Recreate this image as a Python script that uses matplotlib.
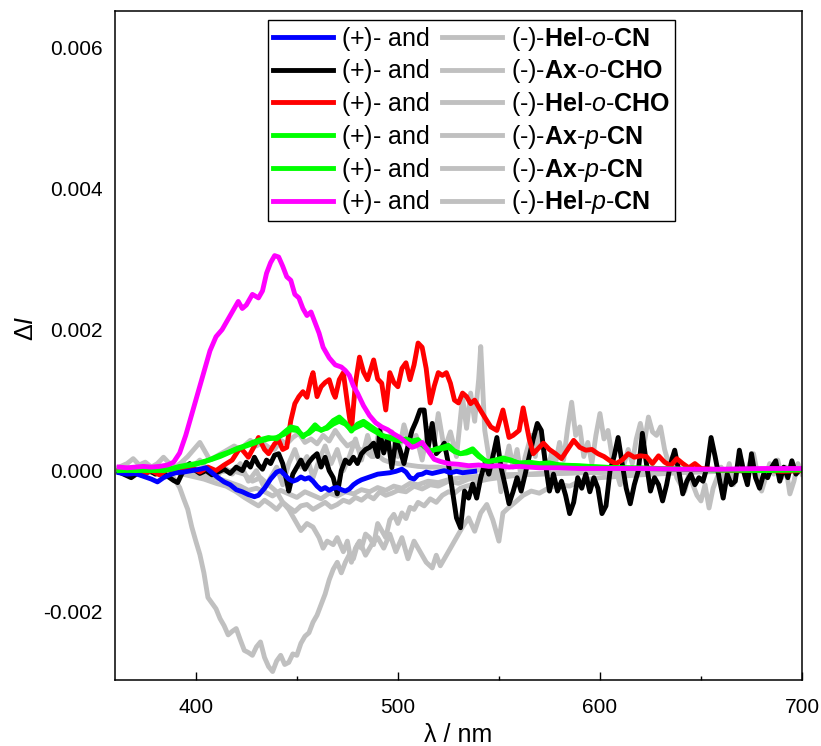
import matplotlib
matplotlib.use('Agg')
import matplotlib.pyplot as plt
from matplotlib.ticker import MultipleLocator, FormatStrFormatter

plt.rcParams['font.family'] = ['Liberation Sans', 'DejaVu Sans']
plt.rcParams['mathtext.fontset'] = 'custom'
plt.rcParams['mathtext.rm'] = 'Liberation Sans'
plt.rcParams['mathtext.it'] = 'Liberation Sans:italic'
plt.rcParams['mathtext.bf'] = 'Liberation Sans:bold'
plt.rcParams['axes.unicode_minus'] = False

# spectra: (wavelength / nm, delta I in 1e-3)
# (+) enantiomers
hel_o_cn_plus = [(362, -0.03), (366, -0.05), (370, -0.04), (374, -0.08), (378, -0.12), (381, -0.16), (384, -0.1),
                 (387, -0.06), (390, -0.03), (394, -0.02), (398, 0.0), (402, 0.02), (405, 0.04), (408, -0.03),
                 (411, -0.1), (414, -0.16), (417, -0.2), (420, -0.27), (423, -0.3), (426, -0.34), (429, -0.37),
                 (431, -0.35), (434, -0.25), (437, -0.12), (440, -0.02), (442, 0.0), (444, -0.06), (446, -0.12),
                 (448, -0.15), (450, -0.13), (452, -0.09), (454, -0.12), (456, -0.1), (458, -0.15), (460, -0.22),
                 (462, -0.27), (464, -0.24), (466, -0.28), (468, -0.25), (470, -0.24), (472, -0.27), (474, -0.29),
                 (476, -0.26), (478, -0.2), (480, -0.16), (482, -0.13), (484, -0.11), (487, -0.08), (490, -0.05),
                 (493, -0.04), (496, -0.03), (499, -0.01), (502, 0.02), (504, -0.02), (506, -0.1), (508, -0.12),
                 (510, -0.06), (512, -0.05), (514, -0.02), (517, -0.04), (520, -0.02), (523, 0.0), (526, -0.03),
                 (529, -0.01), (532, -0.03), (535, -0.02), (538, -0.01)]

ax_o_cho_plus = [(362, -0.02), (365, -0.06), (368, -0.1), (371, -0.04), (374, -0.07), (377, 0.0), (380, -0.05),
                 (383, -0.02), (386, -0.08), (389, -0.14), (391, -0.17), (393, -0.05), (395, 0.05), (397, 0.1),
                 (399, 0.02), (402, -0.04), (405, 0.0), (408, -0.06), (411, -0.02), (414, 0.02), (417, -0.04),
                 (420, 0.05), (423, 0.0), (425, 0.12), (427, 0.05), (429, 0.19), (431, 0.08), (433, 0.02),
                 (435, 0.15), (437, 0.1), (439, 0.22), (441, 0.24), (443, 0.1), (445, -0.15), (446, -0.29),
                 (448, -0.05), (450, 0.05), (452, 0.15), (454, 0.02), (456, 0.12), (458, 0.19), (460, 0.24),
                 (462, 0.05), (464, 0.19), (466, 0.0), (468, -0.1), (470, -0.33), (472, 0.0), (474, 0.15),
                 (476, 0.1), (478, 0.19), (480, 0.1), (482, 0.24), (484, 0.3), (486, 0.33), (488, 0.39),
                 (490, 0.2), (491, 0.57), (493, 0.25), (495, 0.47), (497, 0.04), (499, 0.43), (501, 0.3),
                 (503, 0.1), (505, 0.35), (507, 0.57), (509, 0.7), (511, 0.86), (513, 0.86), (515, 0.33),
                 (517, 0.67), (519, 0.24), (521, 0.3), (523, 0.39), (525, 0.1), (527, -0.29), (529, -0.67),
                 (531, -0.81), (533, -0.29), (535, -0.39), (537, -0.19), (539, -0.39), (541, -0.1), (543, 0.1),
                 (545, -0.05), (547, 0.2), (549, 0.47), (551, 0.05), (553, -0.2), (555, -0.47), (557, -0.3),
                 (559, -0.1), (561, -0.29), (563, -0.05), (565, 0.2), (567, 0.45), (569, 0.67), (571, 0.57),
                 (573, 0.1), (575, -0.29), (577, -0.05), (579, -0.29), (581, -0.15), (583, -0.35), (585, -0.61),
                 (587, -0.45), (589, -0.1), (591, -0.25), (593, -0.05), (595, -0.3), (597, -0.1), (599, -0.25),
                 (601, -0.61), (603, -0.5), (605, 0.0), (607, 0.2), (609, 0.47), (611, 0.1), (613, -0.25),
                 (615, -0.47), (617, -0.2), (619, 0.0), (621, 0.53), (623, 0.1), (625, -0.29), (627, -0.1),
                 (629, -0.2), (631, -0.43), (633, -0.2), (635, 0.1), (637, 0.29), (639, 0.0), (641, -0.33),
                 (643, -0.15), (645, -0.05), (647, -0.2), (649, -0.1), (651, -0.15), (653, 0.05), (655, 0.47),
                 (657, 0.2), (659, -0.1), (661, -0.39), (663, -0.05), (665, -0.2), (667, -0.15), (669, 0.29),
                 (671, 0.0), (673, -0.2), (675, 0.24), (677, -0.1), (679, -0.25), (681, -0.05), (683, -0.1),
                 (685, 0.05), (687, 0.14), (689, -0.15), (691, 0.05), (693, -0.1), (695, 0.14), (697, -0.05),
                 (699, 0.02), (700, 0.0)]

hel_o_cho_plus = [(362, 0.02), (366, -0.04), (370, 0.03), (374, -0.05), (378, 0.0), (382, -0.06), (386, 0.02),
                  (390, -0.03), (394, 0.0), (398, 0.04), (402, -0.02), (406, 0.05), (410, 0.0), (414, 0.08),
                  (418, 0.15), (422, 0.33), (426, 0.19), (429, 0.35), (431, 0.47), (434, 0.3), (436, 0.24),
                  (439, 0.38), (441, 0.43), (443, 0.3), (445, 0.33), (447, 0.71), (449, 0.95), (451, 1.05),
                  (453, 1.12), (455, 1.04), (457, 1.3), (458, 1.39), (460, 1.05), (462, 1.19), (464, 1.25),
                  (466, 1.29), (468, 1.1), (469, 1.04), (471, 1.29), (473, 1.39), (475, 0.96), (477, 0.57),
                  (479, 1.24), (481, 1.61), (483, 1.4), (485, 1.29), (488, 1.57), (490, 1.3), (492, 1.24),
                  (494, 0.86), (496, 1.39), (498, 1.25), (500, 1.19), (502, 1.45), (504, 1.53), (506, 1.29),
                  (508, 1.5), (510, 1.81), (512, 1.75), (514, 1.45), (516, 0.96), (518, 1.2), (520, 1.39),
                  (522, 1.35), (524, 1.39), (526, 1.24), (528, 1.0), (530, 0.96), (532, 1.1), (534, 1.05),
                  (536, 0.95), (538, 1.0), (541, 0.85), (544, 0.71), (546, 0.62), (549, 0.57), (552, 0.86),
                  (555, 0.47), (557, 0.5), (560, 0.57), (562, 0.89), (565, 0.45), (567, 0.24), (570, 0.33),
                  (572, 0.39), (575, 0.3), (578, 0.24), (581, 0.17), (584, 0.3), (587, 0.43), (590, 0.33),
                  (593, 0.29), (596, 0.3), (599, 0.24), (602, 0.2), (605, 0.14), (608, 0.1), (611, 0.15),
                  (614, 0.24), (617, 0.19), (620, 0.21), (623, 0.2), (626, 0.1), (629, 0.21), (632, 0.12),
                  (635, 0.07), (638, 0.17), (641, 0.1), (644, 0.04), (647, 0.1), (650, 0.03), (655, 0.02),
                  (660, 0.01), (670, 0.0), (680, 0.01), (690, -0.01), (700, 0.0)]

ax_p_cn_plus_1 = [(362, 0.0), (370, 0.01), (378, 0.0), (384, 0.01), (388, 0.03), (392, 0.06), (396, 0.08),
                  (400, 0.1), (404, 0.12), (408, 0.17), (412, 0.22), (416, 0.26), (420, 0.31), (424, 0.35),
                  (428, 0.4), (432, 0.44), (436, 0.47), (440, 0.45), (444, 0.55), (447, 0.62), (450, 0.6),
                  (453, 0.48), (456, 0.55), (459, 0.65), (462, 0.57), (465, 0.62), (468, 0.71), (471, 0.76),
                  (474, 0.68), (477, 0.56), (480, 0.66), (483, 0.7), (486, 0.64), (489, 0.58), (492, 0.5),
                  (495, 0.48), (498, 0.46), (501, 0.43), (504, 0.45), (507, 0.42), (510, 0.44), (513, 0.35),
                  (516, 0.27), (519, 0.31), (522, 0.33), (525, 0.36), (528, 0.28), (531, 0.24), (534, 0.27),
                  (537, 0.31), (540, 0.22), (544, 0.12), (548, 0.15), (552, 0.18), (556, 0.15), (560, 0.1),
                  (565, 0.12), (570, 0.1), (575, 0.11), (580, 0.08), (590, 0.07), (600, 0.05), (610, 0.04),
                  (620, 0.04), (640, 0.02), (660, 0.01), (680, 0.01), (700, 0.01)]

ax_p_cn_plus_2 = [(362, 0.01), (370, 0.0), (378, 0.01), (384, 0.0), (388, 0.02), (392, 0.05), (396, 0.07),
                  (400, 0.09), (404, 0.13), (408, 0.16), (412, 0.2), (416, 0.25), (420, 0.3), (424, 0.34),
                  (428, 0.38), (432, 0.42), (436, 0.45), (440, 0.47), (444, 0.52), (447, 0.58), (450, 0.57),
                  (453, 0.5), (456, 0.53), (459, 0.6), (462, 0.58), (465, 0.6), (468, 0.66), (471, 0.7),
                  (474, 0.66), (477, 0.58), (480, 0.62), (483, 0.66), (486, 0.6), (489, 0.55), (492, 0.5),
                  (495, 0.47), (498, 0.44), (501, 0.42), (504, 0.43), (507, 0.4), (510, 0.41), (513, 0.34),
                  (516, 0.28), (519, 0.3), (522, 0.31), (525, 0.33), (528, 0.27), (531, 0.24), (534, 0.25),
                  (537, 0.28), (540, 0.2), (544, 0.13), (548, 0.14), (552, 0.16), (556, 0.14), (560, 0.11),
                  (565, 0.11), (570, 0.09), (575, 0.1), (580, 0.08), (590, 0.06), (600, 0.05), (610, 0.04),
                  (620, 0.03), (640, 0.02), (660, 0.01), (680, 0.0), (700, 0.01)]

hel_p_cn_plus = [(362, 0.05), (366, 0.04), (370, 0.05), (374, 0.06), (378, 0.05), (382, 0.06), (386, 0.08),
                 (389, 0.12), (392, 0.25), (395, 0.5), (398, 0.8), (401, 1.1), (404, 1.4), (407, 1.7),
                 (410, 1.9), (413, 2.0), (416, 2.15), (419, 2.3), (421, 2.4), (423, 2.3), (425, 2.35),
                 (428, 2.5), (431, 2.45), (433, 2.55), (435, 2.8), (437, 2.95), (439, 3.05), (441, 3.03),
                 (443, 2.9), (445, 2.75), (447, 2.7), (449, 2.5), (451, 2.45), (453, 2.3), (455, 2.2),
                 (457, 2.25), (459, 2.1), (461, 1.95), (463, 1.75), (466, 1.6), (469, 1.5), (472, 1.47),
                 (474, 1.42), (476, 1.35), (478, 1.2), (480, 1.1), (483, 0.92), (486, 0.78), (489, 0.68),
                 (492, 0.62), (495, 0.58), (498, 0.52), (501, 0.47), (504, 0.4), (507, 0.33), (509, 0.35),
                 (512, 0.4), (515, 0.28), (518, 0.16), (521, 0.13), (525, 0.1), (530, 0.09), (535, 0.07),
                 (540, 0.08), (545, 0.06), (550, 0.07), (555, 0.05), (560, 0.06), (570, 0.04), (580, 0.04),
                 (590, 0.03), (600, 0.03), (620, 0.03), (640, 0.02), (660, 0.02), (680, 0.03), (700, 0.03)]

# (-) enantiomers
hel_o_cn_minus = [(362, 0.05), (366, 0.1), (369, 0.17), (372, 0.08), (375, 0.12), (378, 0.05), (381, 0.1),
                  (384, 0.19), (387, 0.1), (390, 0.05), (393, 0.12), (396, 0.2), (399, 0.3), (402, 0.4),
                  (404, 0.3), (407, 0.15), (410, 0.2), (413, 0.25), (416, 0.3), (419, 0.35), (422, 0.3),
                  (425, 0.38), (427, 0.43), (430, 0.35), (433, 0.4), (436, 0.33), (439, 0.3), (442, 0.43),
                  (445, 0.38), (448, 0.47), (451, 0.53), (454, 0.4), (457, 0.45), (460, 0.38), (463, 0.5),
                  (466, 0.42), (469, 0.57), (472, 0.45), (475, 0.35), (478, 0.4), (481, 0.3), (484, 0.28),
                  (487, 0.2), (490, 0.22), (493, 0.15), (496, 0.12), (500, 0.1), (505, 0.08), (510, 0.06),
                  (515, 0.05), (520, 0.05), (525, 0.03), (530, 0.02), (540, 0.01)]

ax_o_cho_minus = [(362, 0.0), (366, 0.05), (370, -0.05), (374, 0.1), (378, 0.02), (382, -0.03), (386, 0.08),
                  (390, 0.0), (394, 0.1), (398, 0.05), (402, 0.15), (406, 0.0), (410, -0.1), (414, 0.05),
                  (418, -0.05), (422, 0.1), (426, -0.15), (430, 0.0), (434, -0.25), (437, -0.1), (440, 0.05),
                  (443, -0.2), (446, 0.1), (449, 0.3), (452, 0.05), (455, 0.2), (458, -0.1), (461, 0.15),
                  (464, 0.35), (467, 0.1), (470, 0.3), (473, 0.0), (476, 0.2), (479, 0.45), (482, 0.15),
                  (485, 0.5), (488, 0.2), (491, 0.6), (494, 0.3), (497, 0.55), (500, 0.2), (503, 0.65),
                  (506, 0.35), (509, 0.5), (512, 0.15), (515, 0.6), (518, 0.4), (520, 0.81), (523, 0.3),
                  (526, 0.55), (529, 0.2), (532, 1.04), (534, 0.6), (536, 1.1), (538, 0.7), (540, 1.3),
                  (541, 1.76), (543, 0.57), (545, 0.2), (547, -0.1), (549, 0.15), (551, -0.3), (553, 0.1),
                  (555, 0.35), (557, 0.05), (559, 0.3), (561, -0.1), (563, 0.2), (566, 0.5), (568, 0.2),
                  (570, 0.57), (572, 0.3), (574, -0.05), (576, 0.25), (578, 0.1), (580, 0.4), (582, 0.15),
                  (584, 0.6), (586, 0.97), (588, 0.5), (590, 0.62), (592, 0.2), (594, 0.4), (596, 0.1),
                  (598, 0.5), (600, 0.81), (602, 0.45), (604, 0.57), (606, 0.2), (608, 0.0), (610, -0.2),
                  (612, 0.1), (614, 0.3), (616, 0.1), (618, 0.45), (620, 0.67), (622, 0.4), (624, 0.76),
                  (626, 0.55), (628, 0.5), (630, 0.62), (632, 0.3), (634, 0.1), (636, 0.2), (638, -0.1),
                  (640, -0.2), (642, -0.29), (644, -0.05), (646, -0.2), (648, -0.35), (650, -0.43), (652, -0.2),
                  (654, -0.53), (656, -0.25), (658, -0.1), (660, 0.05), (662, -0.15), (664, 0.1), (666, -0.2),
                  (668, 0.0), (670, 0.15), (672, -0.1), (674, 0.1), (676, 0.24), (678, -0.05), (680, -0.29),
                  (682, -0.1), (684, 0.1), (686, -0.05), (688, 0.15), (690, -0.1), (692, 0.05), (694, -0.33),
                  (696, -0.15), (698, 0.1), (700, -0.05)]

hel_o_cho_minus = [(362, 0.0), (370, 0.03), (378, -0.02), (386, 0.02), (394, 0.0), (402, 0.03), (410, -0.02),
                   (418, 0.0), (424, -0.05), (428, -0.15), (432, -0.1), (436, -0.2), (440, -0.3), (443, -0.45),
                   (446, -0.55), (449, -0.7), (452, -0.85), (455, -0.75), (458, -0.8), (461, -0.95), (463, -1.1),
                   (465, -1.0), (468, -1.05), (470, -0.95), (473, -1.15), (475, -1.0), (477, -1.3), (479, -1.1),
                   (481, -1.0), (484, -1.2), (487, -1.05), (490, -0.95), (493, -1.1), (496, -0.9), (499, -1.15),
                   (502, -0.95), (505, -1.25), (508, -1.0), (511, -1.15), (514, -1.3), (517, -1.38), (519, -1.2),
                   (521, -1.35), (523, -1.25), (526, -1.1), (529, -0.95), (532, -0.8), (535, -0.67), (538, -0.86),
                   (541, -0.6), (544, -0.48), (547, -0.7), (550, -1.0), (552, -0.6), (555, -0.52), (558, -0.45),
                   (562, -0.35), (566, -0.29), (570, -0.32), (575, -0.24), (580, -0.2), (585, -0.22), (590, -0.15),
                   (595, -0.12), (600, -0.1), (610, -0.08), (620, -0.06), (640, -0.03), (660, -0.01), (680, 0.0),
                   (700, 0.0)]

ax_p_cn_minus_1 = [(362, 0.0), (370, -0.02), (378, 0.02), (386, 0.0), (392, -0.04), (398, -0.08), (404, -0.12),
                   (410, -0.18), (415, -0.22), (420, -0.3), (424, -0.38), (428, -0.45), (431, -0.5), (434, -0.42),
                   (437, -0.48), (440, -0.55), (443, -0.45), (446, -0.52), (449, -0.58), (452, -0.5), (455, -0.48),
                   (458, -0.55), (461, -0.5), (464, -0.45), (467, -0.52), (470, -0.48), (473, -0.42), (476, -0.45),
                   (479, -0.38), (482, -0.42), (485, -0.35), (488, -0.4), (491, -0.3), (494, -0.35), (497, -0.32),
                   (500, -0.28), (504, -0.3), (508, -0.22), (512, -0.26), (516, -0.2), (520, -0.22), (525, -0.15),
                   (530, -0.18), (535, -0.12), (540, -0.1), (550, -0.08), (560, -0.06), (575, -0.04), (590, -0.03),
                   (610, -0.02), (640, -0.01), (670, 0.0), (700, 0.0)]

ax_p_cn_minus_2 = [(362, 0.02), (370, 0.0), (378, -0.03), (386, 0.01), (394, -0.02), (400, -0.05), (406, -0.08),
                   (412, -0.12), (418, -0.18), (422, -0.22), (426, -0.28), (430, -0.25), (434, -0.3), (438, -0.36),
                   (442, -0.28), (446, -0.33), (450, -0.38), (454, -0.3), (458, -0.35), (462, -0.4), (466, -0.32),
                   (470, -0.36), (474, -0.3), (478, -0.33), (482, -0.27), (486, -0.3), (490, -0.24), (494, -0.28),
                   (498, -0.22), (502, -0.25), (506, -0.18), (510, -0.2), (515, -0.15), (520, -0.17), (526, -0.12),
                   (532, -0.1), (540, -0.08), (550, -0.06), (565, -0.05), (580, -0.03), (600, -0.02), (630, -0.01),
                   (660, 0.0), (700, 0.0)]

hel_p_cn_minus = [(362, 0.02), (366, -0.02), (370, 0.03), (374, 0.0), (378, -0.02), (382, 0.01), (386, -0.03),
                  (389, -0.1), (392, -0.24), (394, -0.4), (396, -0.55), (398, -0.8), (400, -1.0), (402, -1.19),
                  (404, -1.45), (406, -1.8), (408, -1.88), (410, -1.96), (412, -2.1), (414, -2.2), (416, -2.33),
                  (418, -2.28), (420, -2.24), (422, -2.4), (424, -2.55), (426, -2.58), (428, -2.62), (430, -2.5),
                  (432, -2.43), (434, -2.65), (436, -2.78), (438, -2.85), (440, -2.7), (442, -2.62), (444, -2.75),
                  (446, -2.72), (448, -2.6), (450, -2.62), (452, -2.45), (454, -2.35), (456, -2.3), (458, -2.15),
                  (460, -2.05), (462, -1.9), (464, -1.75), (466, -1.55), (468, -1.4), (470, -1.3), (472, -1.45),
                  (474, -1.3), (476, -1.19), (478, -1.25), (480, -1.05), (482, -1.1), (484, -0.9), (486, -0.95),
                  (488, -1.05), (490, -0.75), (492, -0.85), (494, -0.95), (496, -0.7), (498, -0.62), (500, -0.75),
                  (502, -0.6), (504, -0.68), (506, -0.52), (508, -0.55), (510, -0.45), (513, -0.5), (516, -0.4),
                  (519, -0.45), (522, -0.35), (525, -0.3), (528, -0.32), (531, -0.25), (534, -0.22), (537, -0.2),
                  (540, -0.15), (545, -0.12), (550, -0.1), (555, -0.08), (560, -0.06), (570, -0.05), (580, -0.04),
                  (590, -0.03), (600, -0.02), (620, -0.02), (640, -0.01), (660, -0.01), (680, 0.0), (700, 0.0)]

plus_series = [hel_o_cn_plus, ax_o_cho_plus, hel_o_cho_plus, ax_p_cn_plus_1, ax_p_cn_plus_2, hel_p_cn_plus]
plus_colors = ['#0000ff', '#000000', '#ff0000', '#00ff00', '#00ff00', '#ff00ff']
minus_series = [hel_o_cn_minus, ax_o_cho_minus, hel_o_cho_minus, ax_p_cn_minus_1, ax_p_cn_minus_2, hel_p_cn_minus]
# the "\ " keeps the left labels as mathtext too, so both columns get the same row height
plus_name = '(+)-$\\ $and'
minus_names = ['(-)-$\\mathbf{Hel}$-$\\mathit{o}$-$\\mathbf{CN}$',
               '(-)-$\\mathbf{Ax}$-$\\mathit{o}$-$\\mathbf{CHO}$',
               '(-)-$\\mathbf{Hel}$-$\\mathit{o}$-$\\mathbf{CHO}$',
               '(-)-$\\mathbf{Ax}$-$\\mathit{p}$-$\\mathbf{CN}$',
               '(-)-$\\mathbf{Ax}$-$\\mathit{p}$-$\\mathbf{CN}$',
               '(-)-$\\mathbf{Hel}$-$\\mathit{p}$-$\\mathbf{CN}$']
GRAY = '#c0c0c0'
SCALE = 1e-3
LW = 3.5

fig = plt.figure(figsize=(8.21, 7.46), dpi=100)
ax = fig.add_axes([115 / 821, 1 - 680 / 746, 687 / 821, 669 / 746])

# grey (-) curves go underneath
minus_lines = []
for data in minus_series:
    wl = [p[0] for p in data]
    dI = [p[1] * SCALE for p in data]
    ln, = ax.plot(wl, dI, color=GRAY, lw=LW, solid_joinstyle='round')
    minus_lines.append(ln)

# z-order of the coloured ones as seen in the picture
draw_order = [1, 2, 0, 3, 4, 5]
plus_lines = [None] * 6
for i in draw_order:
    wl = [p[0] for p in plus_series[i]]
    dI = [p[1] * SCALE for p in plus_series[i]]
    ln, = ax.plot(wl, dI, color=plus_colors[i], lw=LW, solid_joinstyle='round')
    plus_lines[i] = ln

ax.set_xlim(360, 700)
ax.set_ylim(-0.00297, 0.00652)

ax.xaxis.set_major_locator(MultipleLocator(100))
ax.xaxis.set_minor_locator(MultipleLocator(50))
ax.yaxis.set_major_locator(MultipleLocator(0.002))
ax.yaxis.set_major_formatter(FormatStrFormatter('%.3f'))
ax.tick_params(axis='x', which='major', direction='in', length=6, width=1, labelsize=15, pad=13)
ax.tick_params(axis='x', which='minor', direction='in', length=3, width=1)
ax.tick_params(axis='y', which='both', length=0, labelsize=15, pad=9)
for sp in ax.spines.values():
    sp.set_linewidth(1.1)

ax.set_xlabel('λ / nm', fontsize=18, labelpad=4)
ax.set_ylabel('Δ$\\mathit{I}$', fontsize=18)
ax.yaxis.set_label_coords(-0.112, 0.526)

leg = ax.legend(plus_lines + minus_lines, [plus_name] * 6 + minus_names, ncol=2,
                loc='upper center', bbox_to_anchor=(0.519, 0.987), fontsize=18,
                frameon=True, fancybox=False, edgecolor='black', framealpha=1,
                handlelength=2.4, handletextpad=0.34, columnspacing=0.5,
                labelspacing=0.19, borderpad=0.2, borderaxespad=0)
leg.get_frame().set_linewidth(1.0)

fig.savefig('out.png', dpi=100)
